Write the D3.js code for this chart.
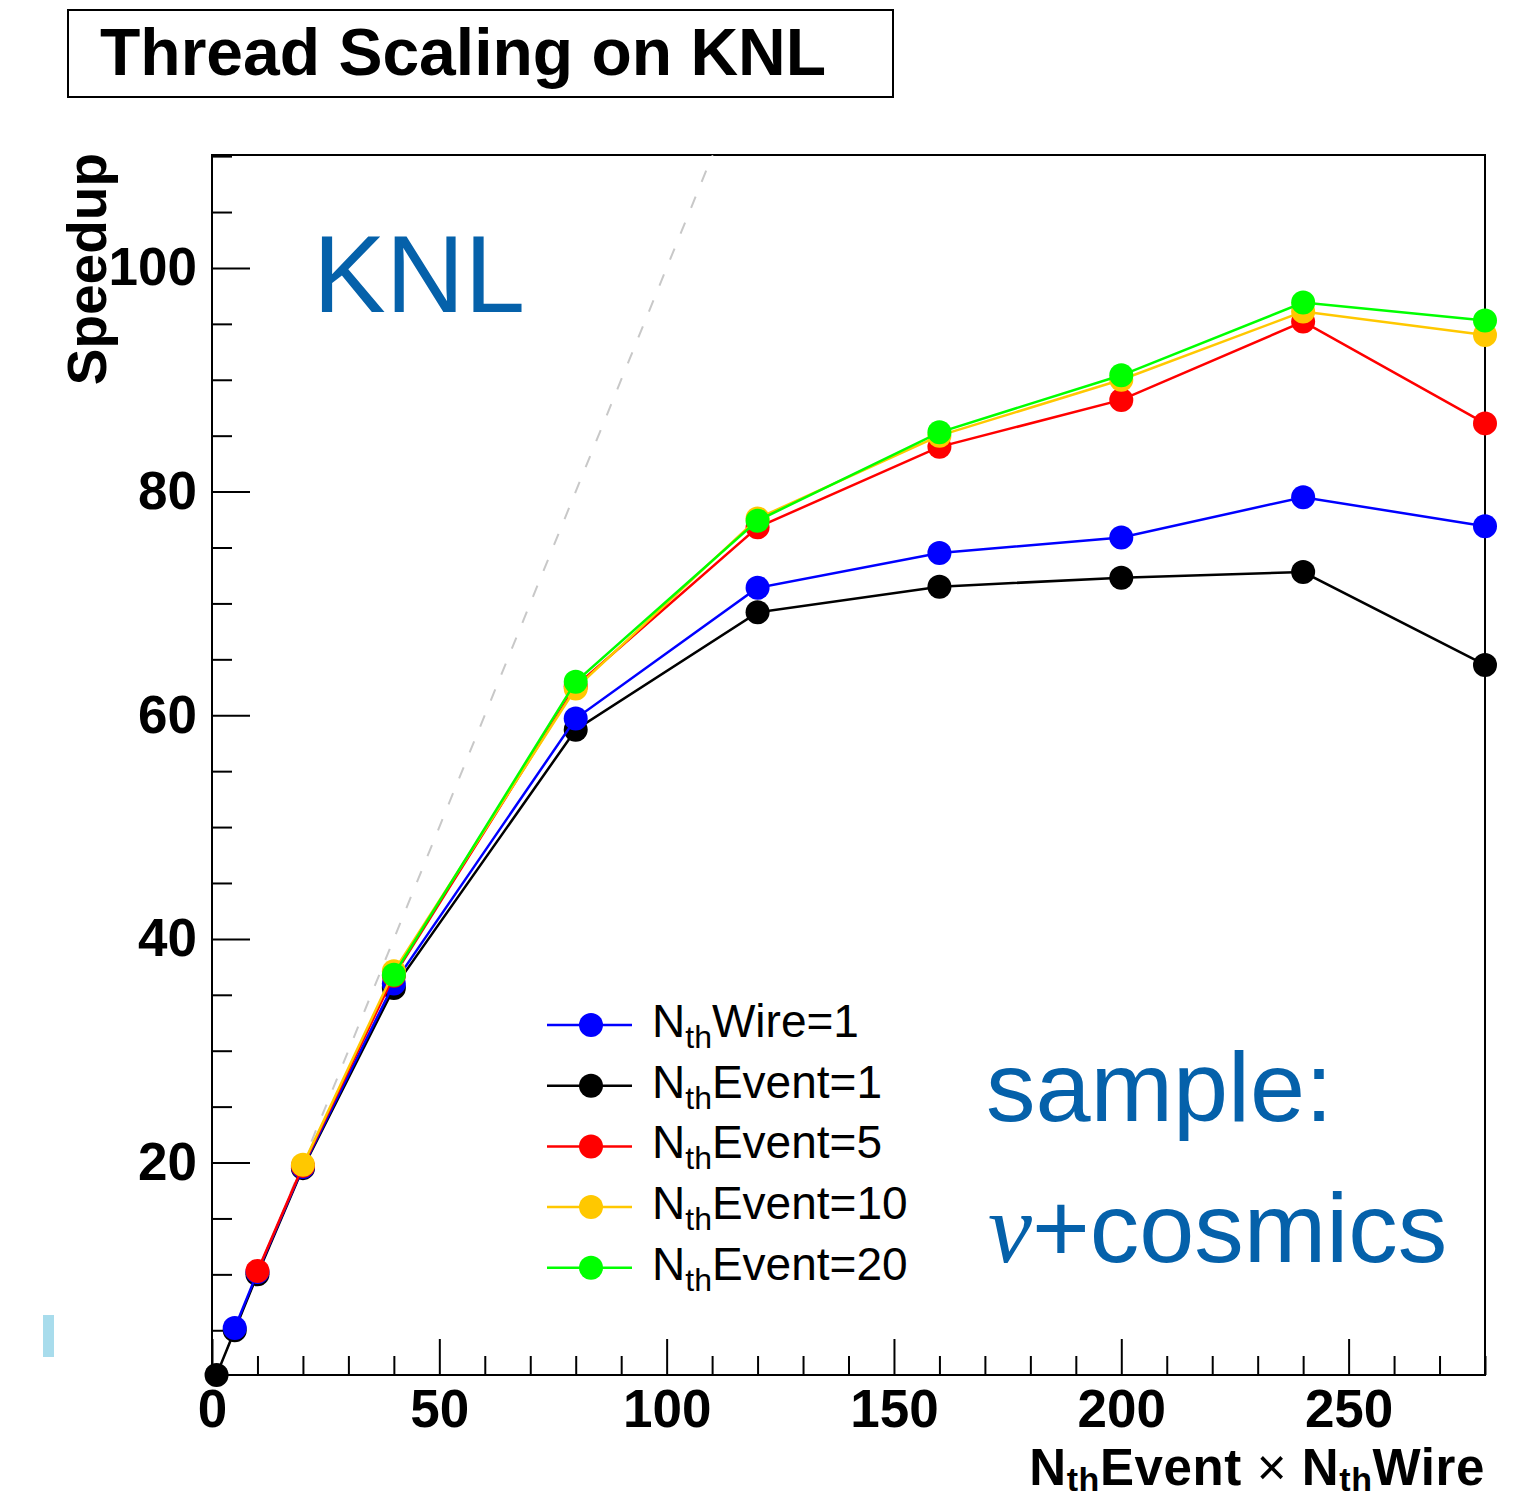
<!DOCTYPE html>
<html>
<head>
<meta charset="utf-8">
<script src="https://cdn.jsdelivr.net/npm/d3@7"></script>
<style>
  body { margin: 0; background: #fff; }
  svg { display: block; font-family: "Liberation Sans", Arial, sans-serif; }
</style>
</head>
<body>
<div id="chart"></div>
<script>
'use strict';

// x = N_th Event x N_th Wire
const xEvent1 = [1, 5, 10, 20, 40, 80, 120, 160, 200, 240, 280];
const xWire1 = [5, 10, 20, 40, 80, 120, 160, 200, 240, 280];
const xEvent5 = [10, 20, 40, 80, 120, 160, 200, 240, 280];
const xEvent10 = [20, 40, 80, 120, 160, 200, 240, 280];
const xEvent20 = [40, 80, 120, 160, 200, 240, 280];

const yEvent1 = [1.0, 5.0, 10.0, 19.5, 35.6, 58.7, 69.2, 71.5, 72.3, 72.8, 64.5];
const yWire1 = [5.2, 10.2, 19.6, 36.0, 59.7, 71.4, 74.5, 75.9, 79.5, 76.9];
const yEvent5 = [10.3, 19.7, 36.7, 62.6, 76.8, 84.0, 88.2, 95.2, 86.1];
const yEvent10 = [19.8, 37.1, 62.4, 77.6, 85.0, 90.0, 96.1, 94.0];
const yEvent20 = [36.8, 63.0, 77.4, 85.3, 90.4, 96.9, 95.3];

const xMajor = [0, 50, 100, 150, 200, 250];
const yMajor = [20, 40, 60, 80, 100];

// legend entries (order shown in legend)
const legendNames = ['Wire=1', 'Event=1', 'Event=5', 'Event=10', 'Event=20'];
const legendColors = ['#0000ff', '#000000', '#ff0000', '#ffc800', '#00ff00'];

// drawing order
const series = [
  { x: xEvent1, y: yEvent1, color: '#000000' },
  { x: xWire1, y: yWire1, color: '#0000ff' },
  { x: xEvent5, y: yEvent5, color: '#ff0000' },
  { x: xEvent10, y: yEvent10, color: '#ffc800' },
  { x: xEvent20, y: yEvent20, color: '#00ff00' }
];

const width = 1516;
const height = 1499;
const padL = 212, padR = 1485, padT = 155, padB = 1375;
const annColor = '#0561aa';

const svg = d3.select('#chart')
  .append('svg')
    .attr('width', width)
    .attr('height', height);

const x = d3.scaleLinear().domain([0, 280]).range([padL, padR]);
const y = d3.scaleLinear().domain([1, 110.1]).range([padB, padT]);

// title box
svg.append('rect')
  .attr('x', 68).attr('y', 10)
  .attr('width', 825).attr('height', 87)
  .attr('fill', 'none')
  .attr('stroke', '#000')
  .attr('stroke-width', 2);

svg.append('text')
  .attr('x', 100).attr('y', 75)
  .attr('font-size', 66)
  .attr('font-weight', 'bold')
  .text('Thread Scaling on KNL');

// frame
svg.append('rect')
  .attr('x', padL).attr('y', padT)
  .attr('width', padR - padL).attr('height', padB - padT)
  .attr('fill', 'none')
  .attr('stroke', '#000')
  .attr('stroke-width', 2);

const fmt = d3.format('d');

// minor ticks
const xMinor = d3.range(10, 281, 10).filter(d => d % 50 !== 0);
const yMinor = d3.range(5, 111, 5).filter(d => d % 20 !== 0);

svg.append('g')
  .attr('transform', 'translate(0,' + padB + ')')
  .call(d3.axisBottom(x).tickValues(xMinor).tickSize(-19).tickFormat(''))
  .call(g => g.select('.domain').remove())
  .call(g => g.selectAll('line').attr('stroke-width', 2));

svg.append('g')
  .attr('transform', 'translate(' + padL + ',0)')
  .call(d3.axisLeft(y).tickValues(yMinor).tickSize(-20).tickFormat(''))
  .call(g => g.select('.domain').remove())
  .call(g => g.selectAll('line').attr('stroke-width', 2));

// major ticks with labels
svg.append('g')
  .attr('transform', 'translate(0,' + padB + ')')
  .call(d3.axisBottom(x).tickValues(xMajor).tickSize(-36).tickPadding(14).tickFormat(fmt))
  .call(g => g.select('.domain').remove())
  .call(g => g.selectAll('line').attr('stroke-width', 2))
  .call(g => g.selectAll('text')
    .attr('font-size', 53)
    .attr('font-weight', 'bold')
    .attr('font-family', '"Liberation Sans", Arial, sans-serif')
    .attr('fill', '#000'));

svg.append('g')
  .attr('transform', 'translate(' + padL + ',0)')
  .call(d3.axisLeft(y).tickValues(yMajor).tickSize(-38).tickPadding(15).tickFormat(fmt))
  .call(g => g.select('.domain').remove())
  .call(g => g.selectAll('line').attr('stroke-width', 2))
  .call(g => g.selectAll('text')
    .attr('font-size', 53)
    .attr('font-weight', 'bold')
    .attr('font-family', '"Liberation Sans", Arial, sans-serif')
    .attr('fill', '#000'));

// axis titles
svg.append('text')
  .attr('transform', 'translate(106,153) rotate(-90)')
  .attr('text-anchor', 'end')
  .attr('font-size', 55)
  .attr('font-weight', 'bold')
  .text('Speedup');

const xTitle = svg.append('text')
  .attr('x', padR).attr('y', 1485)
  .attr('text-anchor', 'end')
  .attr('font-size', 51)
  .attr('letter-spacing', 0.6)
  .attr('font-weight', 'bold');
xTitle.append('tspan').text('N');
xTitle.append('tspan').attr('dy', 6).attr('font-size', 34).text('th');
xTitle.append('tspan').attr('dy', -6).text('Event ');
xTitle.append('tspan').attr('font-weight', 'normal').text('\u00d7');
xTitle.append('tspan').text(' N');
xTitle.append('tspan').attr('dy', 6).attr('font-size', 34).text('th');
xTitle.append('tspan').attr('dy', -6).text('Wire');

// ideal scaling line
svg.append('clipPath').attr('id', 'frameClip')
  .append('rect')
    .attr('x', padL).attr('y', padT)
    .attr('width', padR - padL).attr('height', padB - padT);

svg.append('line')
  .attr('clip-path', 'url(#frameClip)')
  .attr('x1', x(1)).attr('y1', y(1))
  .attr('x2', x(110.1)).attr('y2', y(110.1))
  .attr('stroke', '#c8c8c8')
  .attr('stroke-width', 2)
  .attr('stroke-dasharray', '12,16');

// series
const line = d3.line()
  .x(d => x(d[0]))
  .y(d => y(d[1]));

series.forEach(s => {
  const pts = s.x.map((v, i) => [v, s.y[i]]);
  svg.append('path')
    .datum(pts)
    .attr('d', line)
    .attr('fill', 'none')
    .attr('stroke', s.color)
    .attr('stroke-width', 2.5);
  svg.append('g')
    .selectAll('circle')
    .data(pts)
    .enter()
    .append('circle')
      .attr('cx', d => x(d[0]))
      .attr('cy', d => y(d[1]))
      .attr('r', 12)
      .attr('fill', s.color);
});

// legend
const legend = svg.append('g');
legendNames.forEach((name, i) => {
  const ly = 1025 + i * 60.7;
  legend.append('line')
    .attr('x1', 547).attr('x2', 632)
    .attr('y1', ly).attr('y2', ly)
    .attr('stroke', legendColors[i])
    .attr('stroke-width', 2.5);
  legend.append('circle')
    .attr('cx', 591).attr('cy', ly).attr('r', 12)
    .attr('fill', legendColors[i]);
  const t = legend.append('text')
    .attr('x', 652).attr('y', ly + 12)
    .attr('font-size', 46);
  t.append('tspan').text('N');
  t.append('tspan').attr('dy', 11).attr('font-size', 32).text('th');
  t.append('tspan').attr('dy', -11).text(name);
});

// annotations
svg.append('text')
  .attr('x', 313).attr('y', 312)
  .attr('font-size', 109)
  .attr('fill', annColor)
  .text('KNL');

svg.append('text')
  .attr('x', 986).attr('y', 1121)
  .attr('font-size', 99)
  .attr('fill', annColor)
  .text('sample:');

const nu = svg.append('text')
  .attr('x', 988).attr('y', 1262)
  .attr('font-size', 99)
  .attr('fill', annColor);
nu.append('tspan')
  .attr('font-family', '"Liberation Serif", "DejaVu Serif", serif')
  .attr('font-style', 'italic')
  .text('\u03bd');
nu.append('tspan').text('+cosmics');

svg.append('rect')
  .attr('x', 43).attr('y', 1315)
  .attr('width', 11).attr('height', 42)
  .attr('fill', '#a8dcec');
</script>
</body>
</html>
